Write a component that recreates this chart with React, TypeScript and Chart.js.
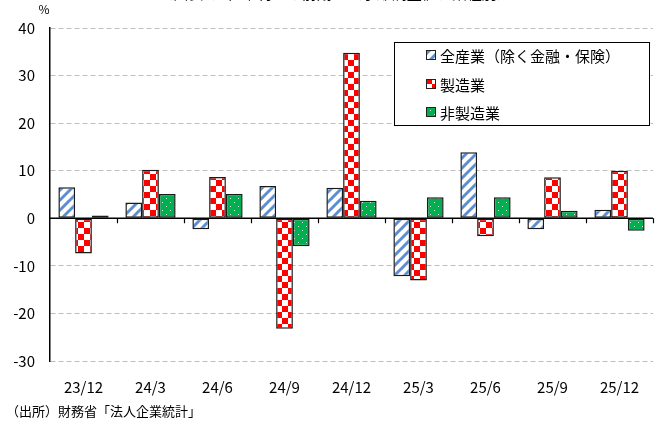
import React, { useEffect, useRef } from "react";
import { Chart, registerables } from "chart.js";

Chart.register(...registerables);

const categories = ["23/12", "24/3", "24/6", "24/9", "24/12", "25/3", "25/6", "25/9", "25/12"];
const allIndustries = [6.5, 3.3, -2.3, 6.8, 6.4, -12.2, 13.9, -2.3, 1.8];
const manufacturing = [-7.4, 10.2, 8.7, -23.2, 34.8, -13.1, -3.8, 8.6, 10.0];
const nonManufacturing = [0.6, 5.1, 5.1, -5.9, 3.7, 4.4, 4.4, 1.6, -2.6];
const seriesLabels = ["全産業（除く金融・保険）", "製造業", "非製造業"];
const yTicks = { min: -30, max: 40, step: 10 };
const titleText = "（図表3）経常利益の前期比（季節調整値、業種別）";
const sourceText = "（出所）財務省「法人企業統計」";

const FONT = "'Noto Sans CJK JP', 'Noto Sans', sans-serif";

function makeTile(size: number, draw: (c: CanvasRenderingContext2D) => void): CanvasPattern {
  const cv = document.createElement("canvas");
  cv.width = size;
  cv.height = size;
  const c = cv.getContext("2d")!;
  draw(c);
  const ctx = document.createElement("canvas").getContext("2d")!;
  return ctx.createPattern(cv, "repeat")!;
}

function stripePattern() {
  return makeTile(10, (c) => {
    c.fillStyle = "#ffffff";
    c.fillRect(0, 0, 10, 10);
    c.strokeStyle = "#5d8fd0";
    c.lineWidth = 3;
    c.beginPath();
    c.moveTo(-1, 11);
    c.lineTo(11, -1);
    c.moveTo(-11, 11);
    c.lineTo(1, -1);
    c.moveTo(9, 11);
    c.lineTo(21, -1);
    c.stroke();
  });
}

function checkerPattern() {
  return makeTile(12, (c) => {
    c.fillStyle = "#ffffff";
    c.fillRect(0, 0, 12, 12);
    c.fillStyle = "#ff0000";
    c.fillRect(0, 0, 6, 6);
    c.fillRect(6, 6, 6, 6);
  });
}

function dotPattern() {
  return makeTile(8, (c) => {
    c.fillStyle = "#00b050";
    c.fillRect(0, 0, 8, 8);
    c.fillStyle = "#d8f5e2";
    c.fillRect(2, 2, 1, 1);
    c.fillRect(6, 6, 1, 1);
  });
}

export default function App() {
  const ref = useRef<HTMLCanvasElement | null>(null);

  useEffect(() => {
    if (!ref.current) return;
    const patterns = [stripePattern(), checkerPattern(), dotPattern()];

    const overlay = {
      id: "overlay",
      afterDatasetsDraw(chart: any) {
        const { ctx, chartArea, scales } = chart;
        const y0 = scales.y.getPixelForValue(0);
        ctx.save();
        ctx.strokeStyle = "#000";
        ctx.lineWidth = 1.5;
        ctx.beginPath();
        ctx.moveTo(chartArea.left, y0);
        ctx.lineTo(chartArea.right, y0);
        ctx.stroke();
        const n = categories.length;
        const w = (chartArea.right - chartArea.left) / n;
        ctx.lineWidth = 1.2;
        ctx.beginPath();
        for (let i = 1; i <= n; i++) {
          const x = Math.round(chartArea.left + i * w) + 0.5;
          ctx.moveTo(x, y0);
          ctx.lineTo(x, y0 + 5);
        }
        ctx.stroke();
        ctx.restore();
      },
      afterDraw(chart: any) {
        const { ctx } = chart;
        ctx.save();
        ctx.fillStyle = "#000";
        ctx.font = `15px ${FONT}`;
        ctx.textAlign = "center";
        ctx.textBaseline = "alphabetic";
        ctx.fillText(titleText, 335, -1.5);
        ctx.font = `12px ${FONT}`;
        ctx.textAlign = "center";
        ctx.textBaseline = "middle";
        ctx.fillText("%", 44, 9);
        ctx.font = `13px ${FONT}`;
        ctx.textAlign = "left";
        ctx.fillText(sourceText, 6, 411);
        const bx = 394.5, by = 42.5, bw = 255, bh = 83;
        ctx.fillStyle = "#fff";
        ctx.fillRect(bx, by, bw, bh);
        ctx.strokeStyle = "#000";
        ctx.lineWidth = 1;
        ctx.strokeRect(bx, by, bw, bh);
        const rows = [55, 84, 112];
        chart.data.datasets.forEach((ds: any, i: number) => {
          const cy = rows[i];
          ctx.fillStyle = ds.backgroundColor;
          ctx.fillRect(426, cy - 5, 10, 10);
          ctx.strokeStyle = "#222";
          ctx.lineWidth = 1;
          ctx.strokeRect(426.5, cy - 4.5, 9, 9);
          ctx.fillStyle = "#000";
          ctx.font = `15px ${FONT}`;
          ctx.textAlign = "left";
          ctx.textBaseline = "middle";
          ctx.fillText(ds.label, 440, cy + 1);
        });
        ctx.restore();
      },
    };

    const mk = (label: string, data: number[], bg: CanvasPattern) => ({
      label,
      data,
      backgroundColor: bg,
      borderColor: "#1a1a1a",
      borderWidth: 1.5,
      borderSkipped: false,
      categoryPercentage: 0.75,
      barPercentage: 1.0,
    });

    const chart = new Chart(ref.current, {
      type: "bar",
      data: {
        labels: categories,
        datasets: [
          mk(seriesLabels[0], allIndustries, patterns[0]),
          mk(seriesLabels[1], manufacturing, patterns[1]),
          mk(seriesLabels[2], nonManufacturing, patterns[2]),
        ],
      },
      options: {
        responsive: false,
        animation: false,
        devicePixelRatio: 1,
        layout: { padding: { top: 28, right: 10, left: 0, bottom: 0 } },
        plugins: { legend: { display: false }, tooltip: { enabled: false }, title: { display: false } },
        scales: {
          x: {
            grid: { display: false },
            border: { display: false },
            ticks: { color: "#000", font: { family: FONT, size: 15 }, padding: 9, maxRotation: 0 },
            afterFit: (s: any) => {
              s.height = 62;
            },
          },
          y: {
            min: yTicks.min,
            max: yTicks.max,
            ticks: {
              stepSize: yTicks.step,
              color: "#000",
              font: { family: FONT, size: 15 },
              padding: 15,
            },
            grid: {
              drawTicks: false,
              color: (c: any) => (c.tick && c.tick.value === 0 ? "rgba(0,0,0,0)" : "#bdbdbd"),
              lineWidth: 1,
            },
            border: { display: true, color: "#000", width: 1.5, dash: [5, 3] },
            afterFit: (s: any) => {
              s.width = 50;
            },
          },
        },
      },
      plugins: [overlay],
    });
    return () => chart.destroy();
  }, []);

  return (
    <div style={{ position: "fixed", left: 0, top: 0, width: 663, height: 423, background: "#fff" }}>
      <canvas ref={ref} width={663} height={423} style={{ display: "block" }} />
    </div>
  );
}
